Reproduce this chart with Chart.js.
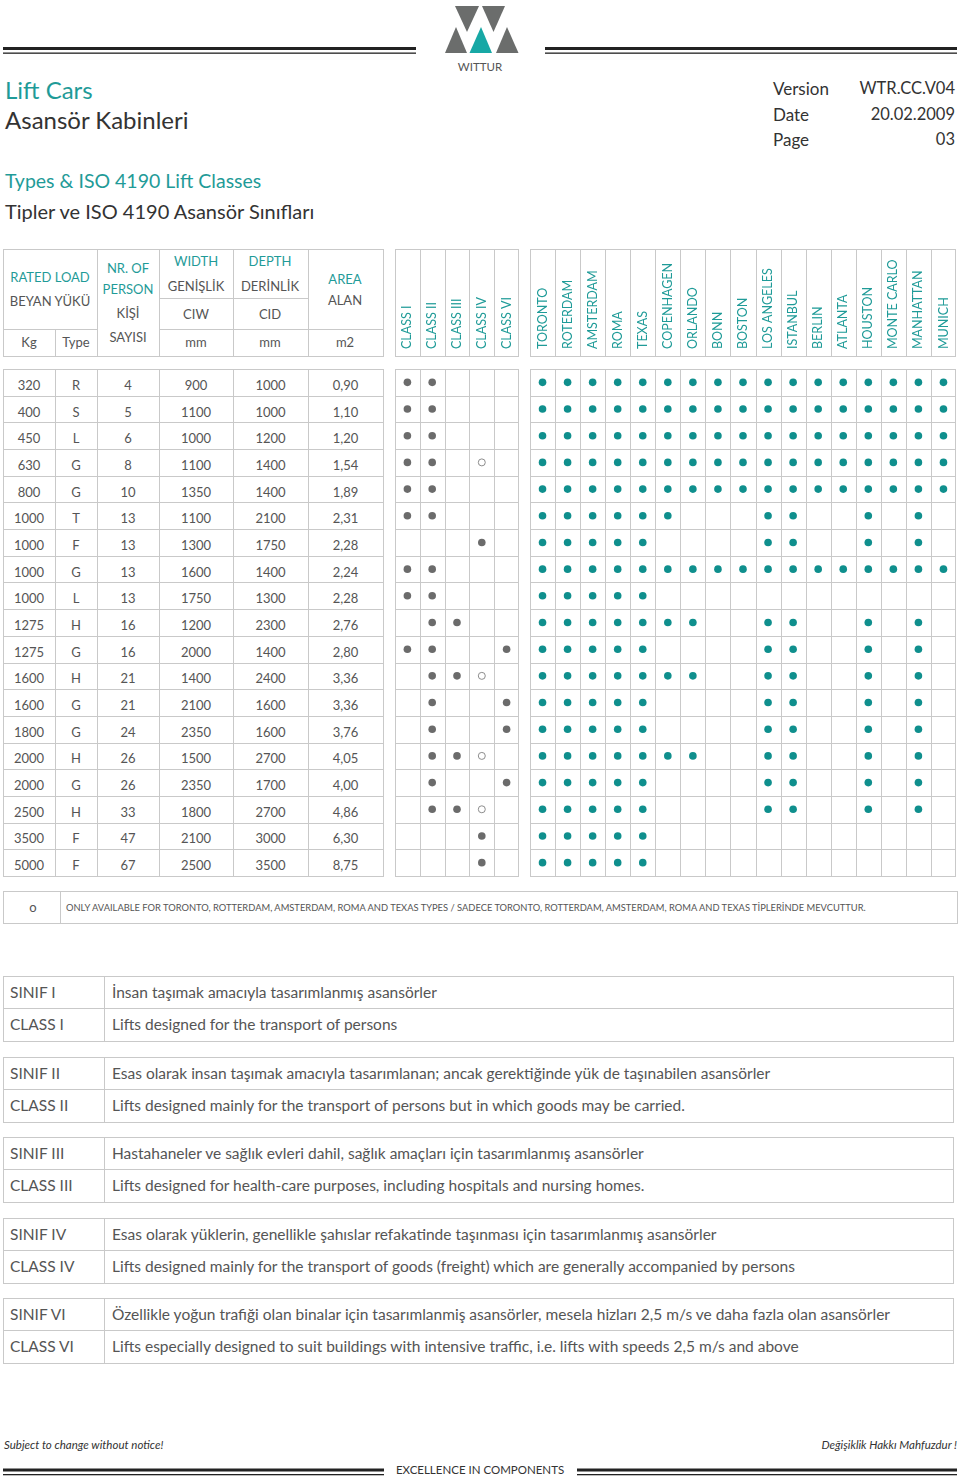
<!DOCTYPE html>
<html>
<head>
<meta charset="utf-8">
<script src="https://cdn.jsdelivr.net/npm/chart.js@4.4.1/dist/chart.umd.min.js"></script>
<style>
body { margin: 0; width: 960px; height: 1477px; position: relative; background: #fff; overflow: hidden;
       font-family: Lato, "Open Sans", sans-serif; color: #555; }
.t { position: absolute; white-space: nowrap; line-height: 1; transform: translate(-50%, -50%); }
.l { transform: translate(0, -50%); }
.r { transform: translate(-100%, -50%); }
.ln { position: absolute; background: #c9c9c9; }
.teal { color: #1f9b98; }
canvas { position: absolute; }
</style>
</head>
<body>
<svg style="position:absolute;left:0;top:0" width="960" height="80">
  <rect x="3" y="47" width="413" height="3" fill="#222"/>
  <rect x="3" y="52.5" width="413" height="1.3" fill="#222"/>
  <rect x="545" y="47" width="412" height="3" fill="#222"/>
  <rect x="545" y="52.5" width="412" height="1.3" fill="#222"/>
  <polygon points="455,6 479,6 467,32" fill="#6b6d6c"/>
  <polygon points="482,6 505,6 493.5,32" fill="#6b6d6c"/>
  <polygon points="456,27 445,53 467,53" fill="#6b6d6c"/>
  <polygon points="481,27 469.5,53 492,53" fill="#17a8a5"/>
  <polygon points="507,27 496,53 518.5,53" fill="#6b6d6c"/>
</svg>
<canvas id="classChart" width="124" height="640" style="left:395px;top:240px;width:124px;height:640px"></canvas>
<canvas id="cityChart" width="426" height="640" style="left:530px;top:240px;width:426px;height:640px"></canvas>
<script>
// rows of the table
const loads   = [320, 400, 450, 630, 800, 1000, 1000, 1000, 1000, 1275, 1275, 1600, 1600, 1800, 2000, 2000, 2500, 3500, 5000];
const types   = ['R', 'S', 'L', 'G', 'G', 'T', 'F', 'G', 'L', 'H', 'G', 'H', 'G', 'G', 'H', 'G', 'H', 'F', 'F'];
const persons = [4, 5, 6, 8, 10, 13, 13, 13, 13, 16, 16, 21, 21, 24, 26, 26, 33, 47, 67];
const widths  = [900, 1100, 1000, 1100, 1350, 1100, 1300, 1600, 1750, 1200, 2000, 1400, 2100, 2350, 1500, 2350, 1800, 2100, 2500];
const depths  = [1000, 1000, 1200, 1400, 1400, 2100, 1750, 1400, 1300, 2300, 1400, 2400, 1600, 1600, 2700, 1700, 2700, 3000, 3500];
const areas   = ['0,90', '1,10', '1,20', '1,54', '1,89', '2,31', '2,28', '2,24', '2,28', '2,76', '2,80', '3,36', '3,36', '3,76', '4,05', '4,00', '4,86', '6,30', '8,75'];

const classes = ['CLASS I', 'CLASS II', 'CLASS III', 'CLASS IV', 'CLASS VI'];
const cities  = ['TORONTO', 'ROTERDAM', 'AMSTERDAM', 'ROMA', 'TEXAS', 'COPENHAGEN', 'ORLANDO', 'BONN', 'BOSTON',
                 'LOS ANGELES', 'ISTANBUL', 'BERLIN', 'ATLANTA', 'HOUSTON', 'MONTE CARLO', 'MANHATTAN', 'MUNICH'];

// 1 = available, 2 = only for Toronto/Rotterdam/Amsterdam/Roma/Texas, 0 = none
const classGrid = ['11000', '11000', '11000', '11020', '11000', '11000', '00010', '11000', '11000', '01100',
                   '11001', '01120', '01001', '01001', '01120', '01001', '01120', '00010', '00010'];
const cityGrid = [
  '11111111111111111', '11111111111111111', '11111111111111111', '11111111111111111', '11111111111111111',
  '11111100011001010', '11111000011001010', '11111111111111111', '11111000000000000', '11111110011001010',
  '11111000011001010', '11111110011001010', '11111000011001010', '11111000011001010', '11111110011001010',
  '11111000011001010', '11111000011001010', '11111000000000000', '11111000000000000'];

const descCodesTr = ['SINIF I', 'SINIF II', 'SINIF III', 'SINIF IV', 'SINIF VI'];
const descTr = [
  'İnsan taşımak amacıyla tasarımlanmış asansörler',
  'Esas olarak insan taşımak amacıyla tasarımlanan; ancak gerektiğinde yük de taşınabilen asansörler',
  'Hastahaneler ve sağlık evleri dahil, sağlık amaçları için tasarımlanmış asansörler',
  'Esas olarak yüklerin, genellikle şahıslar refakatinde taşınması için tasarımlanmış asansörler',
  'Özellikle yoğun trafiği olan binalar için tasarımlanmiş asansörler, mesela hizları 2,5 m/s ve daha fazla olan asansörler'];
const descEn = [
  'Lifts designed for the transport of persons',
  'Lifts designed mainly for the transport of persons but in which goods may be carried.',
  'Lifts designed for health-care purposes, including hospitals and nursing homes.',
  'Lifts designed mainly for the transport of goods (freight) which are generally accompanied by persons',
  'Lifts especially designed to suit buildings with intensive traffic, i.e. lifts with speeds 2,5 m/s and above'];

const rowKeys = loads.map((l, i) => l + types[i]);
const TEAL = '#1f9b98';

function text(x, y, s, cls, size, extra) {
  const e = document.createElement('div');
  e.className = 't ' + (cls || '');
  e.textContent = s;
  e.style.left = x + 'px';
  e.style.top = y + 'px';
  e.style.fontSize = (size || 13) + 'px';
  if (extra) Object.assign(e.style, extra);
  document.body.appendChild(e);
  return e;
}
function hline(x1, x2, y) {
  const e = document.createElement('div');
  e.className = 'ln';
  Object.assign(e.style, {left: x1 + 'px', top: y + 'px', width: (x2 - x1 + 1) + 'px', height: '1px'});
  document.body.appendChild(e);
}
function vline(x, y1, y2) {
  const e = document.createElement('div');
  e.className = 'ln';
  Object.assign(e.style, {left: x + 'px', top: y1 + 'px', width: '1px', height: (y2 - y1 + 1) + 'px'});
  document.body.appendChild(e);
}
function fit(e, w) {
  const k = w / e.offsetWidth;
  e.style.transformOrigin = 'left center';
  e.style.transform = 'translate(0, -50%) scaleX(' + k + ')';
}

// page header
text(480, 67, 'WITTUR', '', 11.5, {color: '#555'});
text(5, 90, 'Lift Cars', 'l teal', 24);
text(5, 120, 'Asansör Kabinleri', 'l', 24, {color: '#333'});
text(5, 181, 'Types & ISO 4190 Lift Classes', 'l teal', 19.5);
text(5, 211, 'Tipler ve ISO 4190 Asansör Sınıfları', 'l', 20, {color: '#333'});
[['Version', 'WTR.CC.V04'], ['Date', '20.02.2009'], ['Page', '03']].forEach((p, i) => {
  text(773, 88 + i * 25.5, p[0], 'l', 17, {color: '#333'});
  text(955, 88 + i * 25.5, p[1], 'r', 16.5, {color: '#333'});
});

// left table header
const colX = [3, 55, 97, 159, 233, 308, 383];
hline(3, 383, 249); hline(3, 383, 356);
[3, 97, 159, 233, 308, 383].forEach(x => vline(x, 249, 356));
vline(55, 329, 356);
hline(3, 97, 329); hline(159, 383, 329); hline(159, 308, 298);
text(50, 277, 'RATED LOAD', 'teal');
text(50, 301, 'BEYAN YÜKÜ');
text(29, 342, 'Kg'); text(76, 342, 'Type');
text(128, 268, 'NR. OF', 'teal'); text(128, 289, 'PERSON', 'teal');
text(128, 313, 'KİŞİ'); text(128, 337, 'SAYISI');
text(196, 261, 'WIDTH', 'teal'); text(196, 286, 'GENİŞLİK'); text(196, 314, 'CIW'); text(196, 342, 'mm');
text(270, 261, 'DEPTH', 'teal'); text(270, 286, 'DERİNLİK'); text(270, 314, 'CID'); text(270, 342, 'mm');
text(345, 279, 'AREA', 'teal'); text(345, 300, 'ALAN'); text(345, 342, 'm2');

// left table body
const bodyTop = 369, bodyBottom = 876, rowH = (bodyBottom - bodyTop) / loads.length;
for (let i = 0; i <= loads.length; i++) hline(3, 383, Math.round(bodyTop + i * rowH));
colX.forEach(x => vline(x, bodyTop, bodyBottom));
loads.forEach((l, i) => {
  const y = bodyTop + rowH * (i + 0.5) + 2.5;
  [l, types[i], persons[i], widths[i], depths[i], areas[i]].forEach((v, k) => {
    text((colX[k] + colX[k + 1]) / 2, y, String(v), '', 13);
  });
});

// footnote
hline(3, 957, 891); hline(3, 957, 923);
vline(3, 891, 923); vline(60, 891, 923); vline(957, 891, 923);
text(33, 907, 'o', '', 13);
fit(text(66, 907, 'ONLY AVAILABLE FOR TORONTO, ROTTERDAM, AMSTERDAM, ROMA AND TEXAS TYPES / SADECE TORONTO, ROTTERDAM, AMSTERDAM, ROMA AND TEXAS TİPLERİNDE MEVCUTTUR.', 'l', 10), 800);

// class descriptions
descTr.forEach((d, b) => {
  const top = Math.round(976 + b * 80.5);
  hline(3, 953, top); hline(3, 953, top + 32); hline(3, 953, top + 65);
  vline(3, top, top + 65); vline(104, top, top + 65); vline(953, top, top + 65);
  text(10, top + 17, descCodesTr[b], 'l', 15.5);
  text(10, top + 49, classes[b], 'l', 15.5);
  text(112, top + 17, d, 'l', 15.5);
  text(112, top + 49, descEn[b], 'l', 15.5);
});

// page footer
text(4, 1445, 'Subject to change without notice!', 'l', 11.5, {fontStyle: 'italic', color: '#333'});
text(957, 1445, 'Değişiklik Hakkı Mahfuzdur !', 'r', 11.5, {fontStyle: 'italic', color: '#333'});
text(480, 1470, 'EXCELLENCE IN COMPONENTS', '', 11.5, {color: '#333'});
const foot = document.createElementNS('http://www.w3.org/2000/svg', 'svg');
foot.setAttribute('width', 960); foot.setAttribute('height', 20);
foot.style.cssText = 'position:absolute;left:0;top:1460px';
foot.innerHTML = '<rect x="3" y="8.5" width="381" height="3" fill="#222"/><rect x="3" y="14" width="381" height="1.3" fill="#222"/>' +
                 '<rect x="577" y="8.5" width="380" height="3" fill="#222"/><rect x="577" y="14" width="380" height="1.3" fill="#222"/>';
document.body.appendChild(foot);

// cell borders for the dot grids, header box included
const cellLines = {
  id: 'cellLines',
  beforeDatasetsDraw(chart) {
    const {ctx, scales: {x, y}} = chart;
    const nx = x.getLabels().length, ny = y.getLabels().length;
    const sx = (x.right - x.left) / nx, sy = (y.bottom - y.top) / ny;
    const px = v => Math.min(Math.round(v) + 0.5, chart.width - 0.5);
    const headTop = 9.5, headBottom = 116.5;
    ctx.save();
    ctx.strokeStyle = '#c9c9c9';
    ctx.lineWidth = 1;
    ctx.beginPath();
    for (let i = 0; i <= nx; i++) {
      const xx = px(x.left + i * sx);
      ctx.moveTo(xx, headTop); ctx.lineTo(xx, headBottom);
      ctx.moveTo(xx, y.top); ctx.lineTo(xx, y.bottom);
    }
    [headTop, headBottom].forEach(yy => { ctx.moveTo(x.left, yy); ctx.lineTo(x.right, yy); });
    for (let j = 0; j <= ny; j++) {
      const yy = Math.round(y.top + j * sy) + 0.5;
      ctx.moveTo(x.left, yy); ctx.lineTo(x.right, yy);
    }
    ctx.stroke();
    ctx.restore();
  }
};

const tickSize = 12.5;
function dotChart(id, cols, grid, color) {
  const filled = [], open = [];
  grid.forEach((row, r) => row.split('').forEach((c, k) => {
    if (c === '1') filled.push({x: cols[k], y: rowKeys[r]});
    if (c === '2') open.push({x: cols[k], y: rowKeys[r]});
  }));
  return new Chart(document.getElementById(id), {
    type: 'scatter',
    data: {
      datasets: [
        {data: filled, pointRadius: 3.8, backgroundColor: color, borderWidth: 0},
        {data: open, pointRadius: 3.5, backgroundColor: '#fff', borderColor: '#8c8c8c', borderWidth: 1}
      ]
    },
    options: {
      responsive: false,
      animation: false,
      events: [],
      layout: {autoPadding: false, padding: {bottom: 4}},
      plugins: {legend: {display: false}, tooltip: {enabled: false}},
      scales: {
        x: {
          type: 'category', labels: cols, position: 'top', offset: true,
          grid: {display: false, drawTicks: false}, border: {display: false},
          // rotated labels on a top axis sit one line height left of the tick, labelOffset puts them back
          ticks: {autoSkip: false, minRotation: 90, maxRotation: 90, padding: 20, color: TEAL,
                  labelOffset: tickSize * 1.2, font: {family: 'Lato', size: tickSize}},
          afterFit: s => { s.height = 129; s.paddingLeft = 0; s.paddingRight = 0; }
        },
        y: {
          type: 'category', labels: rowKeys, offset: true, display: false
        }
      }
    },
    plugins: [cellLines]
  });
}

dotChart('classChart', classes, classGrid, '#6b6b6b');
dotChart('cityChart', cities, cityGrid, '#0f8f8d');
</script>
</body>
</html>
